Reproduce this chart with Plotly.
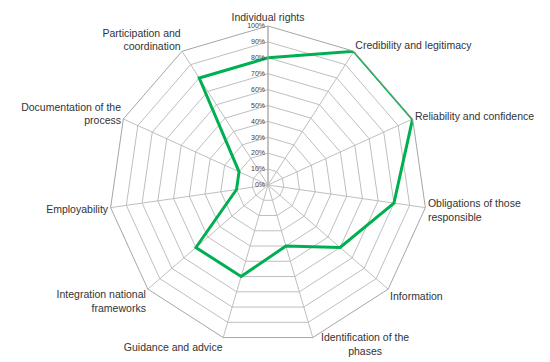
import plotly.graph_objects as go

categories = [
    "Individual rights",
    "Credibility and legitimacy",
    "Reliability and confidence",
    "Obligations of those<br>responsible",
    "Information",
    "Identification of the<br>phases",
    "Guidance and advice",
    "Integration national<br>frameworks",
    "Employability",
    "Documentation of the<br>process",
    "Participation and<br>coordination",
]
values = [80, 100, 100, 80, 60, 40, 60, 60, 20, 20, 80]
radial_ticks = list(range(0, 101, 10))
radial_labels = [f"{v}%" for v in radial_ticks]

# label shown as annotation (plotly would push it below the page edge)
moved_label = "Identification of the<br>phases"
tick_text = ["" if c == moved_label else c for c in categories]

fig = go.Figure()
fig.add_trace(go.Scatterpolar(
    r=values + [values[0]],
    theta=categories + [categories[0]],
    mode="lines",
    line=dict(color="#00B050", width=3),
    showlegend=False,
))

W, H = 550, 362
cx, cy, R = 260, 177, 159
fig.update_layout(
    width=W, height=H,
    margin=dict(l=0, r=0, t=0, b=0),
    paper_bgcolor="white",
    font=dict(family="Liberation Sans, Arial, sans-serif", color="#333333", size=10.5),
    polar=dict(
        domain=dict(x=[(cx - R) / W, (cx + R) / W], y=[(H - cy - R) / H, (H - cy + R) / H]),
        bgcolor="white",
        gridshape="linear",
        angularaxis=dict(
            rotation=90, direction="clockwise",
            categoryorder="array", categoryarray=categories,
            tickvals=categories, ticktext=tick_text,
            gridcolor="#BFBFBF", linecolor="#A6A6A6", linewidth=1,
            showline=True, ticks="",
            tickfont=dict(size=10.5, color="#333333"),
        ),
        radialaxis=dict(
            range=[0, 100], tickvals=radial_ticks, ticktext=radial_labels,
            angle=90, tickangle=90, side="counterclockwise",
            gridcolor="#BFBFBF", linecolor="#A6A6A6", showline=True,
            ticks="", tickfont=dict(size=7, color="#404040"),
        ),
    ),
    annotations=[dict(
        text=moved_label, x=357 / W, y=(H - 336) / H, xref="paper", yref="paper",
        xanchor="center", yanchor="middle", showarrow=False,
        font=dict(size=10.5, color="#333333"),
    )],
)
fig.write_html("out.html")
